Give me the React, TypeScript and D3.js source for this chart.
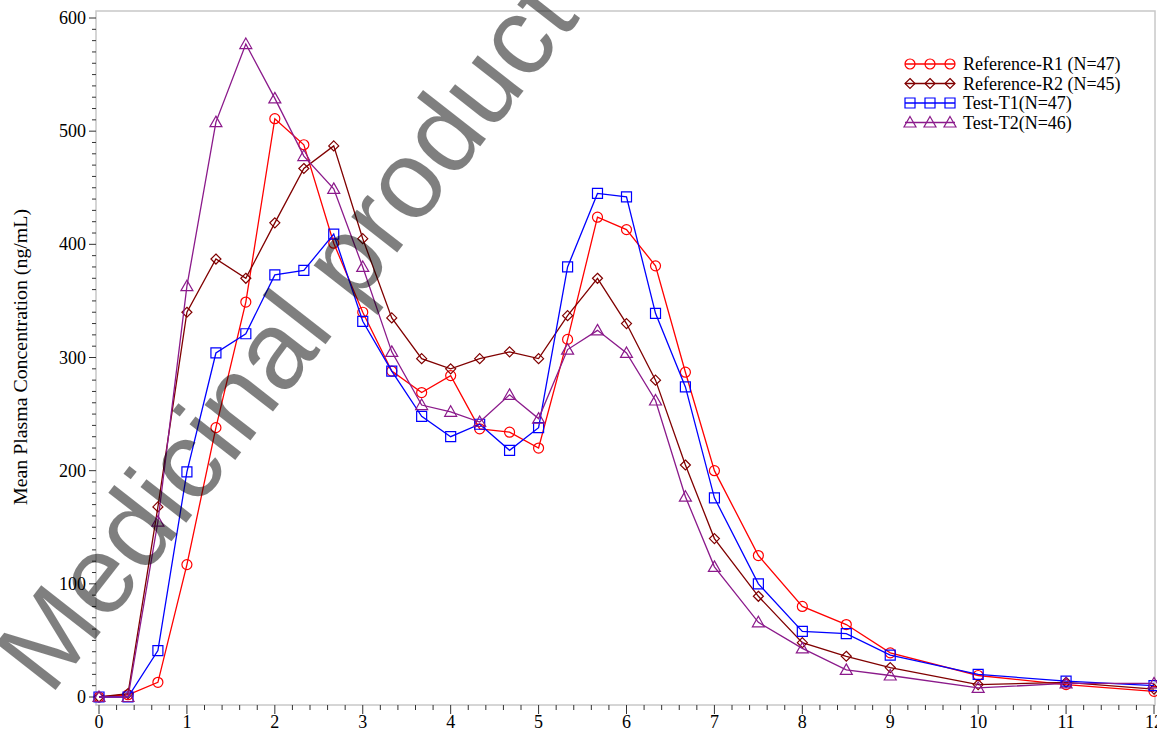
import React, { useEffect, useRef } from "react";
import * as d3 from "d3";

// sampling times (h)
const times = [0, 0.33, 0.67, 1, 1.33, 1.67, 2, 2.33, 2.67, 3, 3.33, 3.67, 4, 4.33, 4.67, 5, 5.33, 5.67, 6, 6.33, 6.67, 7, 7.5, 8, 8.5, 9, 10, 11, 12];

// mean concentrations (ng/mL)
const refR1 = [0, 2, 13, 117, 238, 349, 511, 488, 401, 340, 288, 269, 284, 237, 234, 220, 316, 424, 413, 381, 287, 200, 125, 80, 64, 39, 19, 11, 5];
const refR2 = [0, 3, 168, 340, 387, 370, 419, 467, 487, 405, 335, 299, 290, 299, 305, 299, 337, 370, 330, 280, 205, 140, 89, 48, 36, 26, 11, 13, 7];
const testT1 = [0, 0, 41, 199, 304, 321, 373, 377, 409, 332, 288, 248, 230, 241, 218, 238, 380, 445, 442, 339, 274, 176, 100, 58, 56, 37, 20, 14, 10];
const testT2 = [0, 0, 155, 363, 508, 577, 529, 478, 449, 380, 305, 258, 252, 243, 267, 246, 307, 324, 304, 262, 177, 115, 66, 43, 24, 19, 8, 12, 12];

const seriesNames = ["Reference-R1 (N=47)", "Reference-R2 (N=45)", "Test-T1(N=47)", "Test-T2(N=46)"];
const seriesValues = [refR1, refR2, testT1, testT2];
const seriesColors = ["#ff0000", "#800000", "#0000ff", "#8b1a8b"];
const seriesMarkers = ["circle", "diamond", "square", "triangle"];

const xTicks = [0, 1, 2, 3, 4, 5, 6, 7, 8, 9, 10, 11, 12];
const yTicks = [0, 100, 200, 300, 400, 500, 600];

const W = 1157;
const H = 742;
const serif = "'Liberation Serif', 'Times New Roman', serif";

function markerPath(kind: string) {
	const p = d3.path();
	if (kind === "circle") {
		p.arc(0, 0, 5, 0, Math.PI * 2);
	} else if (kind === "square") {
		p.rect(-5, -5, 10, 10);
	} else if (kind === "diamond") {
		p.moveTo(0, -5);
		p.lineTo(5, 0);
		p.lineTo(0, 5);
		p.lineTo(-5, 0);
		p.closePath();
	} else {
		p.moveTo(0, -6);
		p.lineTo(6, 4.5);
		p.lineTo(-6, 4.5);
		p.closePath();
	}
	return p.toString();
}

export default function App() {
	const ref = useRef<SVGSVGElement>(null);

	useEffect(() => {
		const svg = d3.select(ref.current);
		svg.selectAll("*").remove();

		const x = d3.scaleLinear().domain([0, 12]).range([99, 1154]);
		const y = d3.scaleLinear().domain([0, 600]).range([697, 18]);

		const frame = { left: 96, right: 1155, top: 11, bottom: 705 };

		// frame
		svg.append("rect")
			.attr("x", frame.left)
			.attr("y", frame.top)
			.attr("width", frame.right - frame.left)
			.attr("height", frame.bottom - frame.top)
			.attr("fill", "none")
			.attr("stroke", "#c8c8c8")
			.attr("stroke-width", 1.5);

		// x axis ticks (minor every 0.2)
		const xMinor = d3.range(0, 12.001, 0.2);
		svg.append("g")
			.selectAll("line")
			.data(xMinor)
			.enter()
			.append("line")
			.attr("x1", (d) => x(d))
			.attr("x2", (d) => x(d))
			.attr("y1", frame.bottom)
			.attr("y2", (d) => (Math.abs(d - Math.round(d)) < 1e-6 ? frame.bottom + 9 : frame.bottom + 5))
			.attr("stroke", "#333")
			.attr("stroke-width", 1);

		svg.append("g")
			.selectAll("text")
			.data(xTicks)
			.enter()
			.append("text")
			.attr("x", (d) => x(d))
			.attr("y", 728)
			.attr("text-anchor", "middle")
			.attr("font-family", serif)
			.attr("font-size", "18px")
			.text((d) => d);

		// y axis ticks (minor every 10)
		const yMinor = d3.range(0, 601, 10);
		svg.append("g")
			.selectAll("line")
			.data(yMinor)
			.enter()
			.append("line")
			.attr("x1", frame.left)
			.attr("x2", (d) => (d % 100 === 0 ? frame.left - 7 : frame.left - 4))
			.attr("y1", (d) => y(d))
			.attr("y2", (d) => y(d))
			.attr("stroke", "#333")
			.attr("stroke-width", 1);

		svg.append("g")
			.selectAll("text")
			.data(yTicks)
			.enter()
			.append("text")
			.attr("x", 86)
			.attr("y", (d) => y(d) + 6)
			.attr("text-anchor", "end")
			.attr("font-family", serif)
			.attr("font-size", "18px")
			.text((d) => d);

		svg.append("text")
			.attr("transform", "translate(27,357) rotate(-90)")
			.attr("text-anchor", "middle")
			.attr("font-family", serif)
			.attr("font-size", "18px")
			.attr("textLength", 296)
			.attr("lengthAdjust", "spacingAndGlyphs")
			.text("Mean Plasma Concentration (ng/mL)");

		// series
		const line = d3.line<number>()
			.x((d, i) => x(times[i]))
			.y((d) => y(d));

		seriesValues.forEach((vals, s) => {
			const g = svg.append("g");
			g.append("path")
				.attr("d", line(vals))
				.attr("fill", "none")
				.attr("stroke", seriesColors[s])
				.attr("stroke-width", 1.3);
			g.selectAll("path.m")
				.data(vals)
				.enter()
				.append("path")
				.attr("class", "m")
				.attr("d", markerPath(seriesMarkers[s]))
				.attr("transform", (d, i) => "translate(" + x(times[i]) + "," + y(d) + ")")
				.attr("fill", "none")
				.attr("stroke", seriesColors[s])
				.attr("stroke-width", 1.2);
		});

		// legend
		const legend = svg.append("g").attr("transform", "translate(905,64)");
		seriesNames.forEach((name, s) => {
			const row = legend.append("g").attr("transform", "translate(0," + s * 19.5 + ")");
			row.append("line")
				.attr("x1", 0)
				.attr("x2", 50)
				.attr("y1", 0)
				.attr("y2", 0)
				.attr("stroke", seriesColors[s])
				.attr("stroke-width", 1.3);
			[5, 25, 45].forEach((mx) => {
				row.append("path")
					.attr("d", markerPath(seriesMarkers[s]))
					.attr("transform", "translate(" + mx + ",0)")
					.attr("fill", "none")
					.attr("stroke", seriesColors[s])
					.attr("stroke-width", 1.2);
			});
			row.append("text")
				.attr("x", 58)
				.attr("y", 6)
				.attr("font-family", serif)
				.attr("font-size", "18px")
				.text(name);
		});

		// watermark
		svg.append("text")
			.attr("transform", "translate(50,697) rotate(-52)")
			.attr("font-family", "'Liberation Sans', Arial, sans-serif")
			.attr("font-size", "110px")
			.attr("fill", "#000")
			.attr("fill-opacity", 0.5)
			.text("Medicinal product");
	}, []);

	return (
		<svg
			ref={ref}
			width={W}
			height={H}
			style={{ position: "absolute", left: 0, top: 0, background: "#fff" }}
		/>
	);
}
